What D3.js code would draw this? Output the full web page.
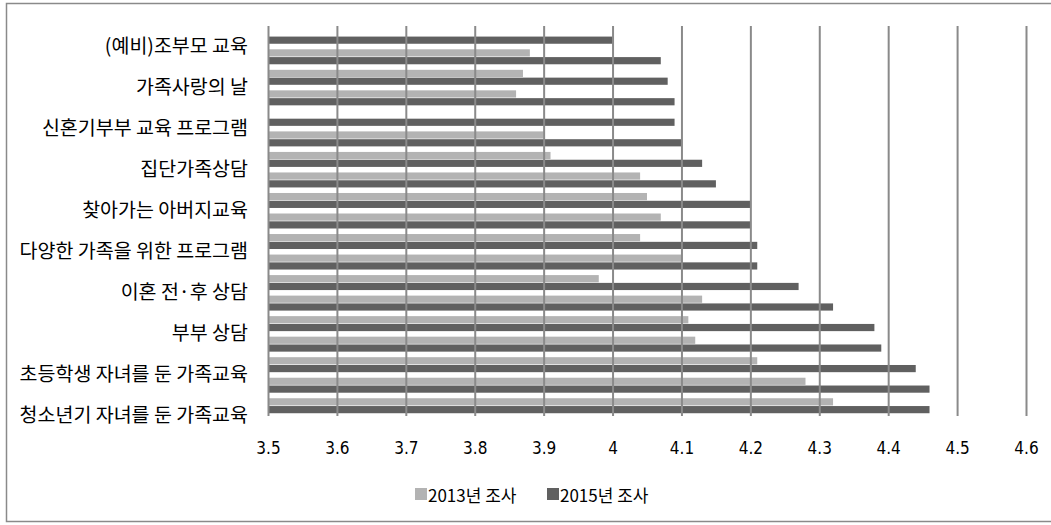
<!DOCTYPE html>
<html>
<head>
<meta charset="utf-8">
<script src="https://cdn.jsdelivr.net/npm/d3@7/dist/d3.min.js"></script>
<style>
  html, body { margin: 0; padding: 0; background: #fff; }
  svg { display: block; }
</style>
</head>
<body>
<svg id="chart" width="1051" height="525"></svg>
<script>
// ---- data (top to bottom) ----
const categories = [
  "(예비)조부모 교육", "", "가족사랑의 날", "", "신혼기부부 교육 프로그램", "",
  "집단가족상담", "", "찾아가는 아버지교육", "", "다양한 가족을 위한 프로그램", "",
  "이혼 전·후 상담", "", "부부 상담", "", "초등학생 자녀를 둔 가족교육", "",
  "청소년기 자녀를 둔 가족교육"
];
const values2013 = [null, 3.88, 3.87, 3.86, null, 3.90, 3.91, 4.04, 4.05, 4.07, 4.04, 4.10, 3.98, 4.13, 4.11, 4.12, 4.21, 4.28, 4.32];
const values2015 = [4.00, 4.07, 4.08, 4.09, 4.09, 4.10, 4.13, 4.15, 4.20, 4.20, 4.21, 4.21, 4.27, 4.32, 4.38, 4.39, 4.44, 4.46, 4.46];
const seriesNames = ["2013년 조사", "2015년 조사"];
const tickValues = [3.5, 3.6, 3.7, 3.8, 3.9, 4.0, 4.1, 4.2, 4.3, 4.4, 4.5, 4.6];
const tickLabels = ["3.5", "3.6", "3.7", "3.8", "3.9", "4", "4.1", "4.2", "4.3", "4.4", "4.5", "4.6"];

const colors = { "2013년 조사": "#b3b3b3", "2015년 조사": "#606060" };
const gridColor = "#8a8a8a";

const svg = d3.select("#chart");

// outer frame
svg.append("rect")
  .attr("x", 6.5).attr("y", 3.5).attr("width", 1050).attr("height", 518)
  .attr("fill", "#fff").attr("stroke", "#8a8a8a").attr("stroke-width", 1.5);

const plotTop = 26, plotBottom = 416;
const x = d3.scaleLinear().domain([3.5, 4.6]).range([268, 1026]);
const idx = d3.range(categories.length);
const y = d3.scaleBand().domain(idx).range([plotTop, plotBottom])
  .paddingInner(0.27).paddingOuter(0.135);
const y1 = d3.scaleBand().domain(seriesNames).range([0, y.bandwidth()]).paddingInner(0.08);

const rows = idx.map(i => ({ i, vals: [
  { s: seriesNames[0], v: values2013[i] },
  { s: seriesNames[1], v: values2015[i] }
]}));

const g = svg.append("g");
g.selectAll("g.row").data(rows).join("g")
  .attr("class", "row")
  .attr("transform", d => `translate(0,${y(d.i)})`)
  .selectAll("rect").data(d => d.vals.filter(e => e.v != null)).join("rect")
  .attr("x", x(3.5))
  .attr("y", d => y1(d.s))
  .attr("width", d => x(d.v) - x(3.5))
  .attr("height", y1.bandwidth())
  .attr("fill", d => colors[d.s]);

// gridlines (drawn above bars, as in reference)
const gridAxis = d3.axisBottom(x).tickValues(tickValues).tickSize(-(plotBottom - plotTop)).tickFormat("");
const grid = svg.append("g").attr("transform", `translate(0,${plotBottom})`).call(gridAxis);
grid.select(".domain").remove();
grid.selectAll("line").attr("stroke", gridColor).attr("stroke-width", 2);

// x tick labels
const xAxis = d3.axisBottom(x).tickValues(tickValues).tickSize(0)
  .tickFormat((d, i) => tickLabels[i]);
const xa = svg.append("g").attr("transform", `translate(0,${plotBottom + 23})`).call(xAxis);
xa.select(".domain").remove();
xa.selectAll("text")
  .attr("font-family", "'Liberation Sans Narrow', 'DejaVu Sans Condensed', 'Noto Sans', sans-serif")
  .attr("font-size", 17).attr("fill", "#000").attr("dy", "0.71em");

// category labels (every other category shown)
svg.append("g").selectAll("text").data(idx.filter(i => categories[i] !== "")).join("text")
  .attr("x", 248)
  .attr("y", i => y(i) + y.bandwidth() / 2 + 8)
  .attr("text-anchor", "end")
  .attr("dominant-baseline", "central")
  .attr("font-family", "'Noto Sans CJK KR', sans-serif")
  .attr("font-size", 19.5)
  .attr("fill", "#000")
  .text(i => categories[i]);

// legend
const legendX = [415, 547];
const leg = svg.append("g").selectAll("g").data(seriesNames).join("g")
  .attr("transform", (d, i) => `translate(${legendX[i]},488)`);
leg.append("rect").attr("width", 12).attr("height", 12).attr("fill", d => colors[d]);
leg.append("text").attr("x", 13).attr("y", 6).attr("dominant-baseline", "central")
  .attr("font-family", "'Liberation Sans Narrow', 'Noto Sans CJK KR', sans-serif")
  .attr("font-size", 17).attr("fill", "#000").text(d => d);
</script>
</body>
</html>
